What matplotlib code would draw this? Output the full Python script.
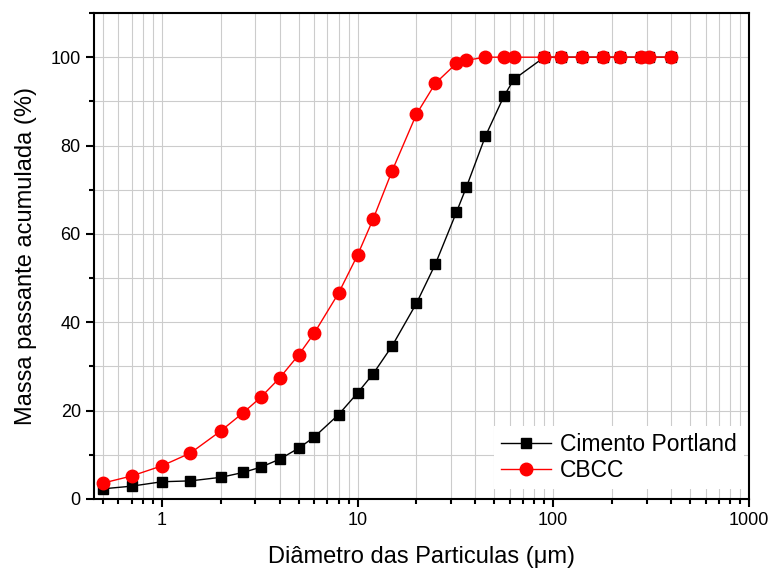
import matplotlib
matplotlib.use("Agg")
import matplotlib.pyplot as plt
from matplotlib.ticker import LogLocator, FixedLocator, NullFormatter, FixedFormatter

plt.rcParams['font.family'] = ['Liberation Sans', 'DejaVu Sans']

# diametro (um) e massa passante acumulada (%)
diam = [0.5, 0.7, 1.0, 1.4, 2.0, 2.6, 3.2, 4.0, 5.0, 6.0, 8.0, 10, 12, 15, 20, 25,
        32, 36, 45, 56, 63, 90, 110, 140, 180, 220, 280, 310, 400]
portland = [2.3, 2.9, 3.9, 4.1, 4.9, 6.0, 7.2, 9.0, 11.5, 14.0, 19.1, 24.0, 28.3, 34.6,
            44.3, 53.2, 64.9, 70.6, 82.1, 91.2, 95.0, 100, 100, 100, 100, 100, 100, 100, 100]
cbcc = [3.6, 5.2, 7.5, 10.4, 15.4, 19.5, 23.0, 27.4, 32.6, 37.5, 46.6, 55.2, 63.3, 74.2,
        87.1, 94.1, 98.6, 99.3, 100, 100, 100, 100, 100, 100, 100, 100, 100, 100, 100]

fig = plt.figure(figsize=(7.71, 5.68), dpi=100)
ax = fig.add_axes([0.1219, 0.1215, 0.8495, 0.8556])

ax.plot(diam, portland, color='black', lw=1, marker='s', ms=7.5,
        label='Cimento Portland', zorder=3)
ax.plot(diam, cbcc, color='red', lw=1, marker='o', ms=9,
        label='CBCC', zorder=4)

ax.set_xscale('log')
ax.set_xlim(0.45, 1000)
ax.set_ylim(0, 110)

ax.xaxis.set_major_locator(FixedLocator([1, 10, 100, 1000]))
ax.xaxis.set_major_formatter(FixedFormatter(['1', '10', '100', '1000']))
ax.xaxis.set_minor_locator(LogLocator(base=10, subs=range(2, 10), numticks=20))
ax.xaxis.set_minor_formatter(NullFormatter())
ax.set_yticks(range(0, 101, 20))
ax.set_yticks(range(10, 111, 20), minor=True)

ax.grid(True, which='both', color='#cccccc', lw=0.8, zorder=0)
ax.set_axisbelow(True)

for s in ax.spines.values():
    s.set_linewidth(1.5)
ax.tick_params(which='major', direction='out', length=6, width=1.5, labelsize=13,
               top=False, right=False)
ax.tick_params(which='minor', direction='out', length=3.5, width=1.5,
               top=False, right=False)

ax.set_xlabel('Diâmetro das Particulas (μm)', fontsize=17, labelpad=12)
ax.set_ylabel('Massa passante acumulada (%)', fontsize=17, labelpad=10)

leg = ax.legend(loc='lower right', bbox_to_anchor=(0.992, 0.02), fontsize=16.5,
                frameon=True, fancybox=False, edgecolor='none', framealpha=1,
                handlelength=2.2, borderaxespad=0, borderpad=0.3,
                labelspacing=0.15, handletextpad=0.4)

fig.savefig('out.png', dpi=100)
